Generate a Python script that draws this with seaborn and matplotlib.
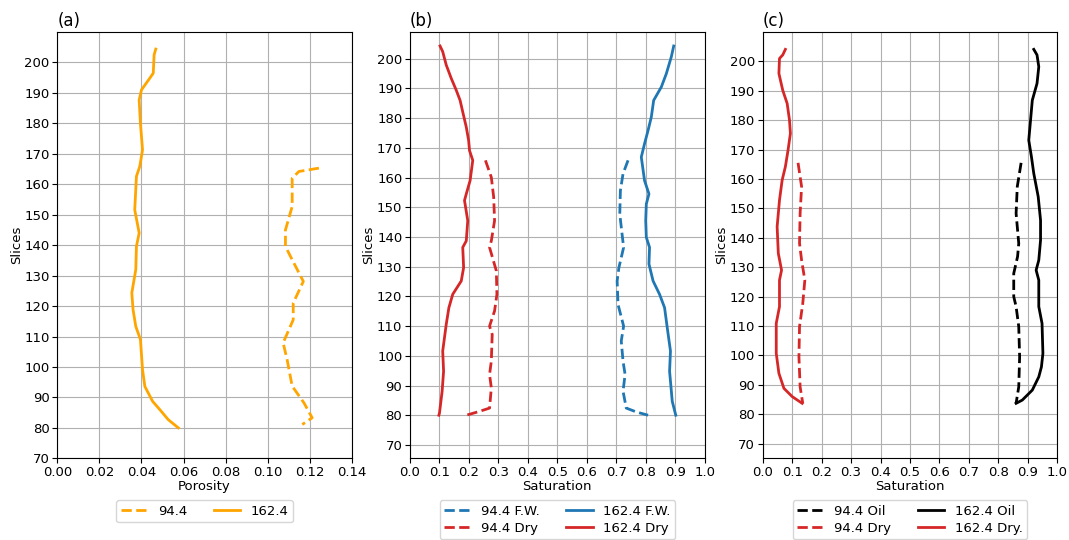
"""
Porosity and saturation profiles along the core slices (three panels)
"""

import numpy as np
import pandas as pd
import matplotlib
matplotlib.use('Agg')
import matplotlib.pyplot as plt
import seaborn as sns

plt.rcParams['font.family'] = ['DejaVu Sans']
plt.rcParams['font.size'] = 9.5

# ---- (a) porosity ----
a_94_y = [165.3, 164.2, 162.0, 152.7, 145.0, 139.6, 135.2, 128.1, 121.0, 115.5,
          107.9, 102.4, 93.7, 88.2, 83.3, 81.1]
a_94_x = [0.1243, 0.1148, 0.1116, 0.1116, 0.1084, 0.1084, 0.1116, 0.1169, 0.1121, 0.1121,
          0.1073, 0.1092, 0.1116, 0.1172, 0.1211, 0.1164]
a_162_y = [204.4, 202.5, 196.5, 194.9, 191.0, 187.7, 180.0, 171.3, 165.9, 162.6, 151.6, 144.0,
           139.6, 132.0, 124.3, 118.8, 113.3, 109.0, 99.1, 93.6, 88.7, 86.0, 82.7, 80.0]
a_162_x = [0.0468, 0.0460, 0.0456, 0.0440, 0.0400, 0.0389, 0.0395, 0.0405, 0.0392, 0.0376, 0.0368, 0.0389,
           0.0376, 0.0373, 0.0354, 0.0360, 0.0373, 0.0395, 0.0405, 0.0416, 0.0453, 0.0487, 0.0527, 0.0575]

# ---- (b) saturation, flowing water / dry ----
b_94_fw_y = [165.8, 161.3, 155.6, 147.7, 139.9, 136.5, 129.7, 125.2, 117.3, 110.0, 105.0,
             98.2, 93.7, 88.1, 82.4, 81.1, 80.0]
b_94_fw_x = [0.740, 0.723, 0.714, 0.712, 0.721, 0.725, 0.709, 0.703, 0.706, 0.725, 0.717,
             0.723, 0.730, 0.723, 0.734, 0.768, 0.808]
b_94_dry_y = [165.8, 160.1, 153.4, 145.5, 138.7, 136.5, 128.6, 120.7, 115.1, 110.0, 107.2,
              98.2, 93.7, 89.2, 82.4, 81.3, 80.0]
b_94_dry_x = [0.256, 0.276, 0.284, 0.287, 0.276, 0.270, 0.293, 0.295, 0.287, 0.270, 0.279,
              0.276, 0.270, 0.276, 0.270, 0.236, 0.191]
b_162_fw_y = [204.3, 200.7, 195.0, 190.5, 186.0, 180.4, 175.9, 171.4, 166.9, 159.0, 154.5, 151.1,
              145.5, 139.9, 136.5, 130.9, 125.2, 120.7, 116.2, 109.5, 101.6, 94.8, 84.7, 80.0]
b_162_fw_x = [0.895, 0.887, 0.870, 0.853, 0.827, 0.819, 0.808, 0.796, 0.785, 0.796, 0.811, 0.802,
              0.800, 0.802, 0.813, 0.811, 0.825, 0.847, 0.864, 0.873, 0.884, 0.881, 0.890, 0.902]
b_162_dry_y = [204.3, 202.4, 197.9, 193.4, 189.4, 186.0, 182.1, 177.0, 172.5, 169.1, 165.8, 159.0, 154.5,
               152.3, 145.5, 138.7, 136.5, 129.7, 125.2, 120.7, 116.2, 110.6, 101.6, 94.8, 88.0, 80.7, 80.0]
b_162_dry_x = [0.102, 0.111, 0.123, 0.140, 0.157, 0.170, 0.179, 0.191, 0.199, 0.202, 0.213, 0.204, 0.191,
               0.185, 0.196, 0.191, 0.179, 0.182, 0.174, 0.145, 0.132, 0.123, 0.111, 0.114, 0.109, 0.100, 0.098]

# ---- (c) saturation, oil / dry ----
c_94_oil_y = [165.5, 157.4, 148.3, 138.1, 133.6, 127.9, 120.0, 116.6, 109.8, 99.5, 89.3, 83.7]
c_94_oil_x = [0.877, 0.864, 0.860, 0.869, 0.865, 0.852, 0.852, 0.860, 0.869, 0.872, 0.869, 0.860]
c_94_dry_y = [165.5, 157.4, 148.3, 138.1, 132.4, 125.6, 117.7, 109.8, 99.5, 89.3, 83.7]
c_94_dry_x = [0.120, 0.132, 0.127, 0.125, 0.132, 0.143, 0.136, 0.125, 0.123, 0.127, 0.136]
c_162_oil_y = [204.1, 202.2, 198.2, 192.5, 186.8, 180.0, 173.2, 167.6, 161.9, 154.0, 146.0, 139.2,
               132.4, 129.0, 125.6, 116.6, 110.9, 100.7, 96.1, 92.7, 88.2, 84.8, 83.7]
c_162_oil_x = [0.920, 0.931, 0.937, 0.931, 0.915, 0.909, 0.903, 0.912, 0.920, 0.935, 0.943, 0.943,
               0.937, 0.928, 0.937, 0.937, 0.948, 0.951, 0.946, 0.937, 0.915, 0.881, 0.860]
c_162_dry_y = [204.1, 202.2, 201.0, 195.9, 190.2, 185.7, 180.0, 175.5, 169.8, 164.2, 159.6, 152.8,
               143.8, 134.7, 129.0, 125.6, 116.6, 110.9, 100.7, 93.9, 88.8, 86.0, 83.7]
c_162_dry_x = [0.077, 0.068, 0.057, 0.055, 0.068, 0.083, 0.091, 0.094, 0.086, 0.077, 0.066, 0.057,
               0.049, 0.053, 0.064, 0.057, 0.057, 0.046, 0.046, 0.055, 0.072, 0.100, 0.134]

ORANGE = 'orange'
BLUE = '#1f77b4'
RED = '#d62728'
BLACK = 'black'


def draw(ax, xs, ys, color, ls, label):
    df = pd.DataFrame({'x': xs, 'y': ys})
    sns.lineplot(data=df, x='x', y='y', ax=ax, color=color, linestyle=ls,
                 linewidth=2, label=label, estimator=None, sort=False, legend=False)


fig, axes = plt.subplots(1, 3, figsize=(10.69, 5.40), dpi=100)
plt.subplots_adjust(left=0.0536, right=0.9891, bottom=0.1513, top=0.9407, wspace=0.197)

# Panel (a)
ax = axes[0]
draw(ax, a_94_x, a_94_y, ORANGE, '--', '94.4')
draw(ax, a_162_x, a_162_y, ORANGE, '-', '162.4')
ax.set_xlim(0, 0.14)
ax.set_ylim(70, 210)
ax.set_xticks(np.arange(0, 0.141, 0.02))
ax.set_xlabel('Porosity', labelpad=1)

# Panel (b)
ax = axes[1]
draw(ax, b_94_fw_x, b_94_fw_y, BLUE, '--', '94.4 F.W.')
draw(ax, b_94_dry_x, b_94_dry_y, RED, '--', '94.4 Dry')
draw(ax, b_162_fw_x, b_162_fw_y, BLUE, '-', '162.4 F.W.')
draw(ax, b_162_dry_x, b_162_dry_y, RED, '-', '162.4 Dry')
ax.set_xlim(0, 1)
ax.set_ylim(65.5, 209)
ax.set_xticks(np.arange(0, 1.01, 0.1))
ax.set_xlabel('Saturation', labelpad=1)

# Panel (c)
ax = axes[2]
draw(ax, c_94_oil_x, c_94_oil_y, BLACK, '--', '94.4 Oil')
draw(ax, c_94_dry_x, c_94_dry_y, RED, '--', '94.4 Dry')
draw(ax, c_162_oil_x, c_162_oil_y, BLACK, '-', '162.4 Oil')
draw(ax, c_162_dry_x, c_162_dry_y, RED, '-', '162.4 Dry.')
ax.set_xlim(0, 1)
ax.set_ylim(65, 210)
ax.set_xticks(np.arange(0, 1.01, 0.1))
ax.set_xlabel('Saturation', labelpad=1)

for ax, tag in zip(axes, ['(a)', '(b)', '(c)']):
    ax.set_yticks(np.arange(70, 201, 10))
    ax.tick_params(pad=2)
    ax.set_ylabel('Slices', labelpad=1)
    ax.set_title(tag, loc='left', fontsize=12, pad=4)
    ax.grid(True, color='#b0b0b0', linewidth=0.8)
    ax.legend(loc='upper center', bbox_to_anchor=(0.5, -0.0917), ncol=2,
              labelspacing=0.3, borderpad=0.35, borderaxespad=0.2)

fig.savefig('out.png', dpi=100)
